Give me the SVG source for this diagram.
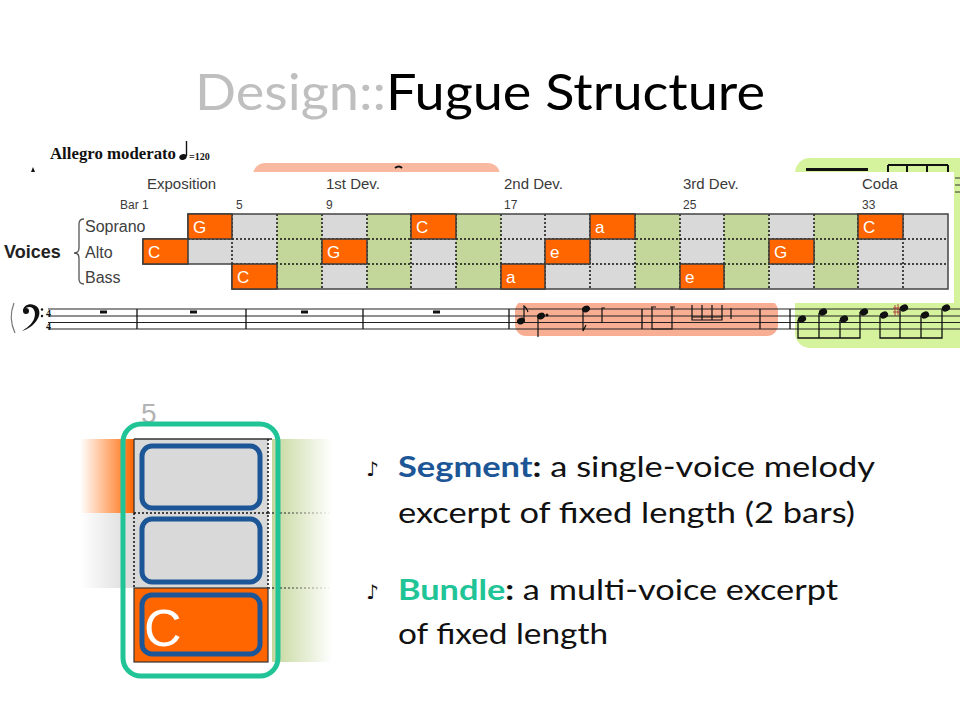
<svg xmlns="http://www.w3.org/2000/svg" width="960" height="720" viewBox="0 0 960 720">
<defs>
<style>
.tbl{font-family:"Liberation Sans",Arial,sans-serif;fill:#3a3a3a}
.sec{font-size:15px}
.bar{font-size:12px}
.voice{font-size:16px;fill:#404040}
.let{font-family:"Liberation Sans",Arial,sans-serif;font-size:17px;fill:#ffffff}
.grey{fill:#d9d9d9}
.green{fill:#c4d79b}
.or{fill:#ff6600;stroke:#3a3a3a;stroke-width:1.5}
.dot{stroke:#111;stroke-width:1.5;stroke-dasharray:2 2;fill:none}
.staff{stroke:#222;stroke-width:1.2}
.body{font-family:Lato,"Open Sans",sans-serif;font-size:29px;fill:#111}
.seg{fill:none;stroke:#1c5696;stroke-width:5}
</style>
<linearGradient id="fadeOr" x1="0" x2="1" y1="0" y2="0"><stop offset="0" stop-color="#ff6600" stop-opacity="0"/><stop offset="1" stop-color="#ff6600"/></linearGradient>
<linearGradient id="fadeGr" x1="0" x2="1" y1="0" y2="0"><stop offset="0" stop-color="#d9d9d9" stop-opacity="0"/><stop offset="1" stop-color="#d9d9d9"/></linearGradient>
<linearGradient id="fadeGn" x1="0" x2="1" y1="0" y2="0"><stop offset="0" stop-color="#c4d79b"/><stop offset="1" stop-color="#c4d79b" stop-opacity="0"/></linearGradient>
<linearGradient id="lineL" x1="0" x2="1" y1="0" y2="0"><stop offset="0" stop-color="#333" stop-opacity="0"/><stop offset="1" stop-color="#333"/></linearGradient>
<linearGradient id="lineR" x1="0" x2="1" y1="0" y2="0"><stop offset="0" stop-color="#333"/><stop offset="1" stop-color="#333" stop-opacity="0"/></linearGradient>
</defs>

<rect width="960" height="720" fill="#ffffff"/>

<!-- Title -->
<g id="title">
<text x="195" y="110" font-family="Lato,'Open Sans',sans-serif" font-size="50" textLength="570" lengthAdjust="spacingAndGlyphs"><tspan fill="#bfbfbf">Design::</tspan><tspan fill="#000">Fugue Structure</tspan></text>
</g>

<!-- Score background -->
<g id="score">
<text x="50" y="159" font-family="'Liberation Serif',serif" font-weight="bold" font-size="17" fill="#111" textLength="126" lengthAdjust="spacingAndGlyphs">Allegro moderato</text>
<ellipse cx="183" cy="157" rx="3.8" ry="2.8" fill="#111" transform="rotate(-20 183 157)"/>
<line x1="186.5" y1="156" x2="186.5" y2="141" stroke="#111" stroke-width="1.4"/>
<text x="189" y="160" font-family="'Liberation Serif',serif" font-weight="bold" font-size="10" fill="#111">=120</text>
<path d="M31,172 L33,167 L35,172 Z" fill="#111"/>
<rect x="253" y="163" width="247" height="40" rx="12" fill="#f9b8a0"/>
<rect x="515" y="300" width="263" height="36" rx="11" fill="#f8ae93"/>
<rect x="795" y="158" width="180" height="190" rx="15" fill="#d5f39d"/>
<rect x="806" y="168" width="62" height="3" fill="#111"/>
<path d="M888,165 H948 M888,165 V175 M907,165 V175 M927,165 V175 M948,165 V175" stroke="#111" stroke-width="2" fill="none"/>
<path d="M955,178 H960 M955,185 H960 M955,192 H960" stroke="#333" stroke-width="1"/>
<path d="M395,168 q4,-3 7,0" stroke="#111" stroke-width="2" fill="none"/>
<!-- white panel -->
<rect x="0" y="172" width="954" height="131" fill="#ffffff"/>
<!-- staff -->
<path class="staff" d="M48,309 H960 M48,316 H960 M48,322.5 H960 M48,329 H960"/>
<path d="M14,303 Q8,318 15,333" stroke="#777" stroke-width="1.2" fill="none"/>
<path d="M23,311 c0,-5 6,-8 11,-6 c6,2 7,9 3,15 c-3,5 -9,9 -15,11 c5,-3 10,-7 12,-12 c2,-5 1,-11 -4,-12 c-3,0 -5,1 -6,3 z" fill="#111"/>
<circle cx="26" cy="311" r="3" fill="#111"/>
<circle cx="42" cy="309.5" r="1.2" fill="#111"/>
<circle cx="42" cy="316" r="1.2" fill="#111"/>
<text x="46" y="317" font-family="'Liberation Serif',serif" font-weight="bold" font-size="10" fill="#111">4</text>
<text x="46" y="330" font-family="'Liberation Serif',serif" font-weight="bold" font-size="10" fill="#111">4</text>
<path d="M137,309 V329 M246,309 V329 M363,309 V329 M509,309 V329 M642,309 V329 M760,309 V329 M790,309 V329" stroke="#111" stroke-width="1.3"/>
<path d="M100,310.5 h7 v3 h-7 z M190,310.5 h7 v3 h-7 z M301,310.5 h7 v3 h-7 z M433,310.5 h7 v3 h-7 z" fill="#111"/>
<!-- notes in salmon -->
<g fill="#111" stroke="#111" stroke-width="1.2">
<ellipse cx="521" cy="321" rx="3.5" ry="2.6" transform="rotate(-25 521 321)"/>
<path d="M524,320 V306 q3,2 4,6" fill="none"/>
<ellipse cx="541" cy="316" rx="3.5" ry="2.6" transform="rotate(-25 541 316)"/>
<path d="M538,317 V337" fill="none"/>
<circle cx="547" cy="315" r="0.9"/>
<ellipse cx="586" cy="309" rx="3.5" ry="2.6" transform="rotate(-25 586 309)"/>
<path d="M583,310 V331 l3,-6" fill="none"/>
<path d="M602,323 V308 h3" fill="none"/>
<path d="M652,307 V329 H672 V307 M651,307 h5 M670,307 h5" fill="none"/>
<path d="M692,305 V320 H722 V305 M702,305 V320 M712,305 V320 M692,317 H722" fill="none"/>
<path d="M731,308 V319" fill="none"/>
</g>
<!-- notes in green -->
<g fill="#111" stroke="#111" stroke-width="1.3">
<path d="M798,320 V338 H860 V312 M819,313 V338 M840,320 V338" fill="none"/>
<ellipse cx="802" cy="319" rx="3.6" ry="2.7" transform="rotate(-25 802 319)"/>
<ellipse cx="823" cy="312" rx="3.6" ry="2.7" transform="rotate(-25 823 312)"/>
<ellipse cx="844" cy="319" rx="3.6" ry="2.7" transform="rotate(-25 844 319)"/>
<ellipse cx="864" cy="312" rx="3.6" ry="2.7" transform="rotate(-25 864 312)"/>
<path d="M880,316 V338 H942 V309 M900,309 V338 M921,316 V338" fill="none"/>
<ellipse cx="884" cy="315" rx="3.6" ry="2.7" transform="rotate(-25 884 315)"/>
<ellipse cx="904" cy="308" rx="3.6" ry="2.7" transform="rotate(-25 904 308)"/>
<ellipse cx="925" cy="315" rx="3.6" ry="2.7" transform="rotate(-25 925 315)"/>
<ellipse cx="946" cy="308" rx="3.6" ry="2.7" transform="rotate(-25 946 308)"/>
<path d="M895,305 V316 M898,304 V315 M893,308 h7 M893,312 h7" fill="none" stroke="#a33" stroke-width="0.9"/>
</g>
</g>

<!-- Table labels -->
<g id="labels" class="tbl">
<text class="sec" x="147" y="189">Exposition</text>
<text class="sec" x="326" y="189">1st Dev.</text>
<text class="sec" x="504" y="189">2nd Dev.</text>
<text class="sec" x="683" y="189">3rd Dev.</text>
<text class="sec" x="862" y="189">Coda</text>
<text class="bar" x="120" y="209">Bar 1</text>
<text class="bar" x="236" y="209">5</text>
<text class="bar" x="326" y="209">9</text>
<text class="bar" x="504" y="209">17</text>
<text class="bar" x="683" y="209">25</text>
<text class="bar" x="862" y="209">33</text>
<text class="voice" x="85" y="232">Soprano</text>
<text class="voice" x="85" y="258">Alto</text>
<text class="voice" x="85" y="283">Bass</text>
<text x="4" y="258" font-size="18" font-weight="bold" fill="#222">Voices</text>
<path d="M84,219 Q79,219 79,224 L79,248 Q79,253 74,253 Q79,253 79,258 L79,279 Q79,284 84,284" stroke="#555" stroke-width="1.3" fill="none"/>
</g>

<!-- Grid -->
<g id="grid">
<rect class="grey" x="188" y="214" width="760" height="25"/>
<rect class="grey" x="143" y="239" width="805" height="25"/>
<rect class="grey" x="232" y="264" width="716" height="25"/>
<rect class="green" x="277" y="214" width="45" height="75"/>
<rect class="green" x="367" y="214" width="44" height="75"/>
<rect class="green" x="456" y="214" width="45" height="75"/>
<rect class="green" x="635" y="214" width="45" height="75"/>
<rect class="green" x="724" y="214" width="45" height="75"/>
<rect class="green" x="814" y="214" width="44" height="75"/>
<path class="dot" d="M188,239 H948 M232,264 H948 M232,214 V264 M277,214 V289 M322,214 V289 M367,214 V289 M411,214 V289 M456,214 V289 M501,214 V289 M545,214 V289 M590,214 V289 M635,214 V289 M680,214 V289 M724,214 V289 M769,214 V289 M814,214 V289 M858,214 V289 M903,214 V289"/>
<path d="M188,214 H948 V289 H232 V264 H143 V239 H188 Z" fill="none" stroke="#444" stroke-width="1.5"/>
</g>

<g id="subjects">
<rect class="or" x="188" y="214" width="44" height="25"/><text class="let" x="193" y="233">G</text>
<rect class="or" x="411" y="214" width="45" height="25"/><text class="let" x="416" y="233">C</text>
<rect class="or" x="590" y="214" width="45" height="25"/><text class="let" x="595" y="233">a</text>
<rect class="or" x="858" y="214" width="45" height="25"/><text class="let" x="863" y="233">C</text>
<rect class="or" x="143" y="239" width="45" height="25"/><text class="let" x="148" y="258">C</text>
<rect class="or" x="322" y="239" width="45" height="25"/><text class="let" x="327" y="258">G</text>
<rect class="or" x="545" y="239" width="45" height="25"/><text class="let" x="550" y="258">e</text>
<rect class="or" x="769" y="239" width="45" height="25"/><text class="let" x="774" y="258">G</text>
<rect class="or" x="232" y="264" width="45" height="25"/><text class="let" x="237" y="283">C</text>
<rect class="or" x="501" y="264" width="44" height="25"/><text class="let" x="506" y="283">a</text>
<rect class="or" x="680" y="264" width="44" height="25"/><text class="let" x="685" y="283">e</text>
</g>

<!-- Enlarged cell -->
<g id="zoomcell">
<text x="141" y="423" font-family="'Liberation Sans',Arial,sans-serif" font-size="28" fill="#b3b3b3">5</text>
<rect x="80" y="439" width="54" height="74" fill="url(#fadeOr)"/>
<rect x="80" y="513" width="54" height="75" fill="url(#fadeGr)"/>
<rect x="272" y="439" width="60" height="223" fill="url(#fadeGn)"/>
<rect class="grey" x="134" y="439" width="134" height="149"/>
<rect x="134" y="588" width="134" height="74" fill="#ff6600" stroke="#333" stroke-width="1.2"/>
<line x1="80" y1="439" x2="134" y2="439" stroke="url(#lineL)" stroke-width="1.5"/>
<line x1="134" y1="439" x2="272" y2="439" stroke="#333" stroke-width="1.5"/>
<line x1="272" y1="439" x2="332" y2="439" stroke="url(#lineR)" stroke-width="1.5"/>
<line x1="80" y1="513" x2="134" y2="513" stroke="url(#lineL)" stroke-width="1.3"/>
<line x1="80" y1="588" x2="134" y2="588" stroke="url(#lineL)" stroke-width="1.3"/>
<line x1="268" y1="662" x2="332" y2="662" stroke="url(#lineR)" stroke-width="1.3"/>
<line x1="134" y1="439" x2="134" y2="513" stroke="#333" stroke-width="1.3"/>
<path class="dot" d="M134,513 H268 M134,513 V588 M268,439 V588"/>
<path d="M268,513 H332 M268,588 H332" stroke="url(#lineR)" stroke-width="1.5" stroke-dasharray="2 2"/>
<text x="144" y="646" font-family="'Liberation Sans',Arial,sans-serif" font-size="52" fill="#ffffff">C</text>
</g>

<g id="segments">
<rect class="seg" x="142" y="446" width="118" height="62" rx="10"/>
<rect class="seg" x="142" y="519" width="118" height="63" rx="10"/>
<rect class="seg" x="142" y="595" width="118" height="59" rx="10"/>
</g>
<g id="bundle">
<rect x="123" y="424" width="155" height="252" rx="18" fill="none" stroke="#20c497" stroke-width="5"/>
</g>

<!-- Bullets -->
<g id="bullets">
<text x="366" y="476" font-family="'DejaVu Sans',sans-serif" font-size="20" fill="#111">♪</text>
<text class="body" x="398" y="477" textLength="477" lengthAdjust="spacingAndGlyphs"><tspan font-weight="bold" fill="#1c5696">Segment</tspan><tspan font-weight="bold">:</tspan> a single-voice melody</text>
<text class="body" x="398" y="523" textLength="457" lengthAdjust="spacingAndGlyphs">excerpt of fixed length (2 bars)</text>
<text x="366" y="599" font-family="'DejaVu Sans',sans-serif" font-size="20" fill="#111">♪</text>
<text class="body" x="398" y="600" textLength="440" lengthAdjust="spacingAndGlyphs"><tspan font-weight="bold" fill="#20c497">Bundle</tspan><tspan font-weight="bold">:</tspan> a multi-voice excerpt</text>
<text class="body" x="398" y="644" textLength="210" lengthAdjust="spacingAndGlyphs">of fixed length</text>
</g>
</svg>
